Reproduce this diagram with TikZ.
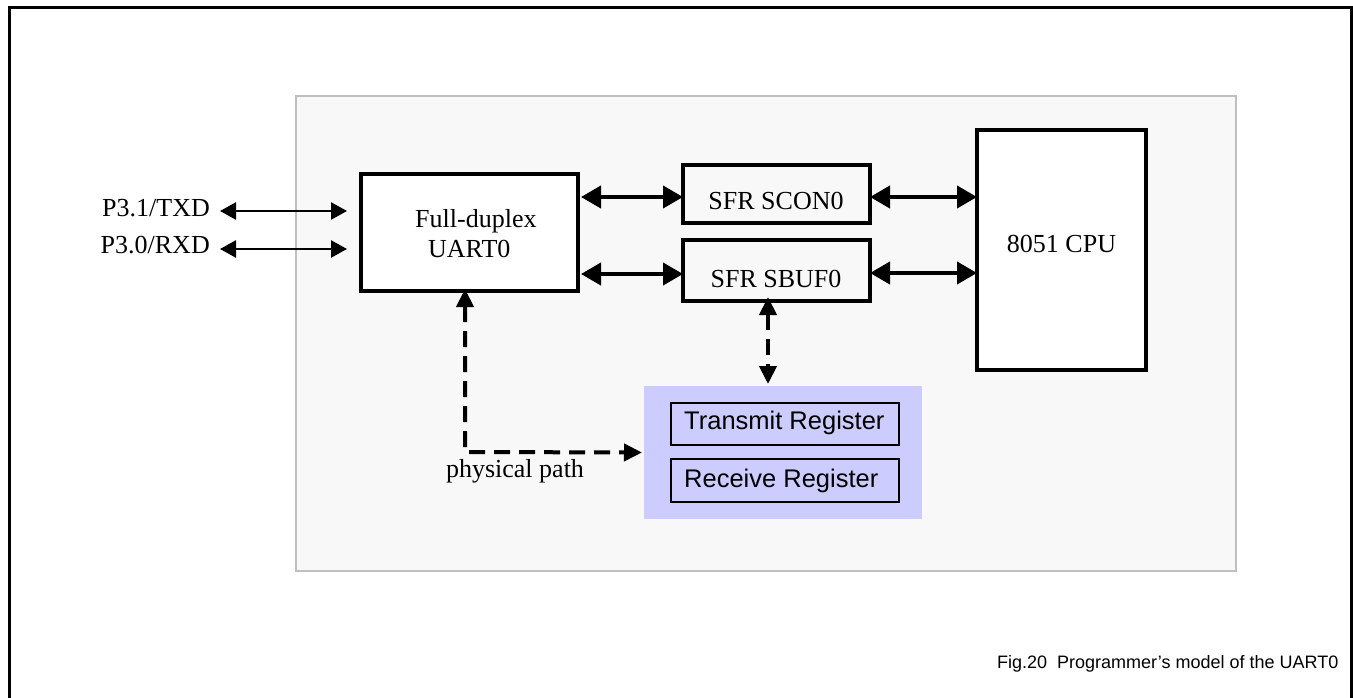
\documentclass[tikz,border=0pt]{standalone}
\usepackage{fontspec}
\setmainfont{Liberation Serif}
\newfontfamily\arialf{Liberation Sans}
\usetikzlibrary{arrows.meta}
\definecolor{bggray}{HTML}{F8F8F8}
\definecolor{bgedge}{HTML}{BFBFBF}
\definecolor{regblue}{HTML}{CCCCFF}
\begin{document}
\begin{tikzpicture}[x=1pt,y=-1pt,
  boxstyle/.style={draw, line width=3.5pt, inner sep=0pt, outer sep=0pt},
  regbox/.style={draw, line width=2pt, inner sep=0pt, outer sep=0pt},
  serif/.style={inner sep=0pt, font=\fontsize{26}{31}\selectfont},
  sans/.style={inner sep=0pt, font=\arialf\fontsize{25.5}{30}\selectfont},
  capt/.style={inner sep=0pt, font=\arialf\fontsize{18}{22}\selectfont},
  bigarrow/.style={line width=4pt, {Triangle[length=20pt,width=22pt]}-{Triangle[length=20pt,width=22pt]}},
  pinarrow/.style={line width=2.5pt, {Triangle[length=16pt,width=17pt]}-{Triangle[length=16pt,width=17pt]}},
  dasharrow/.style={line width=4pt, dash pattern=on 16pt off 9pt, {Triangle[length=18pt,width=17pt]}-{Triangle[length=18pt,width=17pt]}}
]
\useasboundingbox (0,0) rectangle (1353,698);
\fill[white] (0,0) rectangle (1353,698);
% outer frame (open at bottom)
\draw[line width=3pt] (9.5,698) -- (9.5,8) -- (1351,8) -- (1351,698);
% gray panel
\draw[fill=bggray, draw=bgedge, line width=2pt] (296,96) rectangle (1236,571);

% boxes
\node[boxstyle, fill=white, minimum width=217pt, minimum height=117pt] (uart) at (469.5,232.5) {};
\node[boxstyle, fill=bggray, minimum width=187pt, minimum height=58pt] (scon) at (776.5,194) {};
\node[boxstyle, fill=bggray, minimum width=187pt, minimum height=61pt] (sbuf) at (776.5,270.5) {};
\node[boxstyle, fill=white, minimum width=169pt, minimum height=240pt] (cpu) at (1061.5,250) {};
\node[fill=regblue, inner sep=0pt, outer sep=0pt, minimum width=278pt, minimum height=133pt] (blue) at (783,452.5) {};
\node[regbox, minimum width=228pt, minimum height=42pt] (tx) at (785,424) {};
\node[regbox, minimum width=228pt, minimum height=43pt] (rx) at (785,480.5) {};

% texts
\node[serif, anchor=base west] (fd) at (415,227) {Full-duplex};
\node[serif, anchor=base west] (u0) at (428,257) {UART0};
\node[serif, anchor=base] (sct) at (776,210) {SFR SCON0};
\node[serif, anchor=base] (sbt) at (776,287) {SFR SBUF0};
\node[serif, anchor=base] (cput) at (1061.5,252) {8051 CPU};
\node[sans, anchor=base west] (txt) at (684,429) {Transmit Register};
\node[sans, anchor=base west] (rxt) at (684,487) {Receive Register};
\node[serif, anchor=base east] (txd) at (210,216) {P3.1/TXD};
\node[serif, anchor=base east] (rxd) at (210,253) {P3.0/RXD};
\node[serif, anchor=base] (phys) at (515,477) {physical path};
\node[capt, anchor=base west] (cap) at (997,668) {Fig.20\ \ Programmer’s model of the UART0};

% pin arrows
\coordinate (txdin) at (347,211);
\coordinate (rxdin) at (347,249);
\draw[pinarrow] ([xshift=10pt]txd.east |- txdin) -- (txdin);
\draw[pinarrow] ([xshift=10pt]rxd.east |- rxdin) -- (rxdin);

% bus arrows
\draw[bigarrow] ([xshift=3pt]uart.east |- 0,197) -- (scon.west |- 0,197);
\draw[bigarrow] ([xshift=3pt]uart.east |- 0,274) -- (sbuf.west |- 0,274);
\draw[bigarrow] (scon.east |- 0,197) -- (cpu.west |- 0,197);
\draw[bigarrow] (sbuf.east |- 0,273) -- (cpu.west |- 0,273);

% dashed arrows
\draw[dasharrow] ([yshift=2pt]uart.south -| 465,0) -- (465,452) -- ([xshift=-2pt]blue.west);
\draw[dasharrow] ([yshift=4pt]sbuf.south -| 768,0) -- ([yshift=2pt]blue.north -| 768,0);
\end{tikzpicture}
\end{document}
